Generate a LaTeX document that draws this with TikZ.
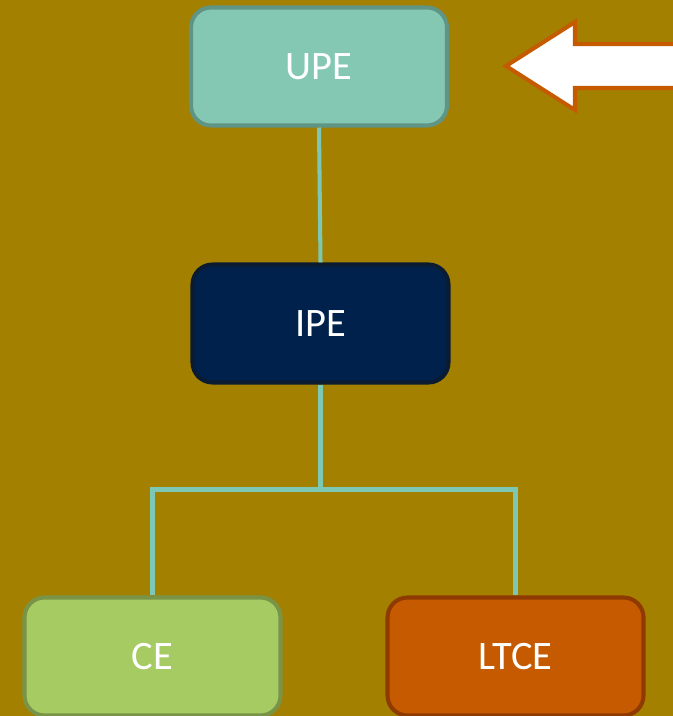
\documentclass[tikz,border=0pt]{standalone}
\usepackage{fontspec}
\setmainfont{Carlito}
\usepackage{tikz}
\usetikzlibrary{calc,positioning}
\definecolor{bgol}{RGB}{163,128,0}
\definecolor{upefill}{RGB}{132,200,180}
\definecolor{upeline}{RGB}{96,148,132}
\definecolor{ipefill}{RGB}{0,33,75}
\definecolor{ipeline}{RGB}{10,27,50}
\definecolor{cefill}{RGB}{165,203,98}
\definecolor{celine}{RGB}{122,148,71}
\definecolor{ltcefill}{RGB}{197,90,0}
\definecolor{ltceline}{RGB}{142,58,0}
\definecolor{linkcol}{RGB}{125,200,180}
\tikzset{
  pe box/.style = {
    rounded corners = 0.4cm,
    line width      = 2.3pt,
    minimum width   = 5.12cm,
    minimum height  = 2.36cm,
    text            = white,
    font            = \fontsize{23}{27}\selectfont
  },
  link/.style    = {line width = 2.3pt, linkcol},
  pointer/.style = {line width = 2.3pt, draw = ltcefill, fill = white, line join = miter}
}
\begin{document}
\begin{tikzpicture}
  \useasboundingbox[fill=bgol] (0,0) rectangle (13.46,14.32);
  % Knoten
  \node[pe box, fill=upefill,  draw=upeline]  (upe)  at (6.38,12.99) {UPE};
  \node[pe box, fill=ipefill,  draw=ipeline]  (ipe)  at (6.41,7.85)  {IPE};
  \node[pe box, fill=cefill,   draw=celine]   (ce)   at (3.05,1.19)  {CE};
  \node[pe box, fill=ltcefill, draw=ltceline] (ltce) at (10.31,1.19) {LTCE};
  % Verbindungen
  \path (ipe.south) ++(0,-2.1) coordinate (bus);
  \draw[link] (upe.south) -- (ipe.north);
  \draw[link] (ipe.south) -- (bus);
  \draw[link] (ce.north) |- (bus) -| (ltce.north);
  % Pfeil
  \path (10.12,13.0) coordinate (tip);
  \draw[pointer] (tip) -- ++(1.38,0.88) -- ++(0,-0.44) -- ++(2.2,0)
    -- ++(0,-0.88) -- ++(-2.2,0) -- ++(0,-0.44) -- cycle;
\end{tikzpicture}
\end{document}
